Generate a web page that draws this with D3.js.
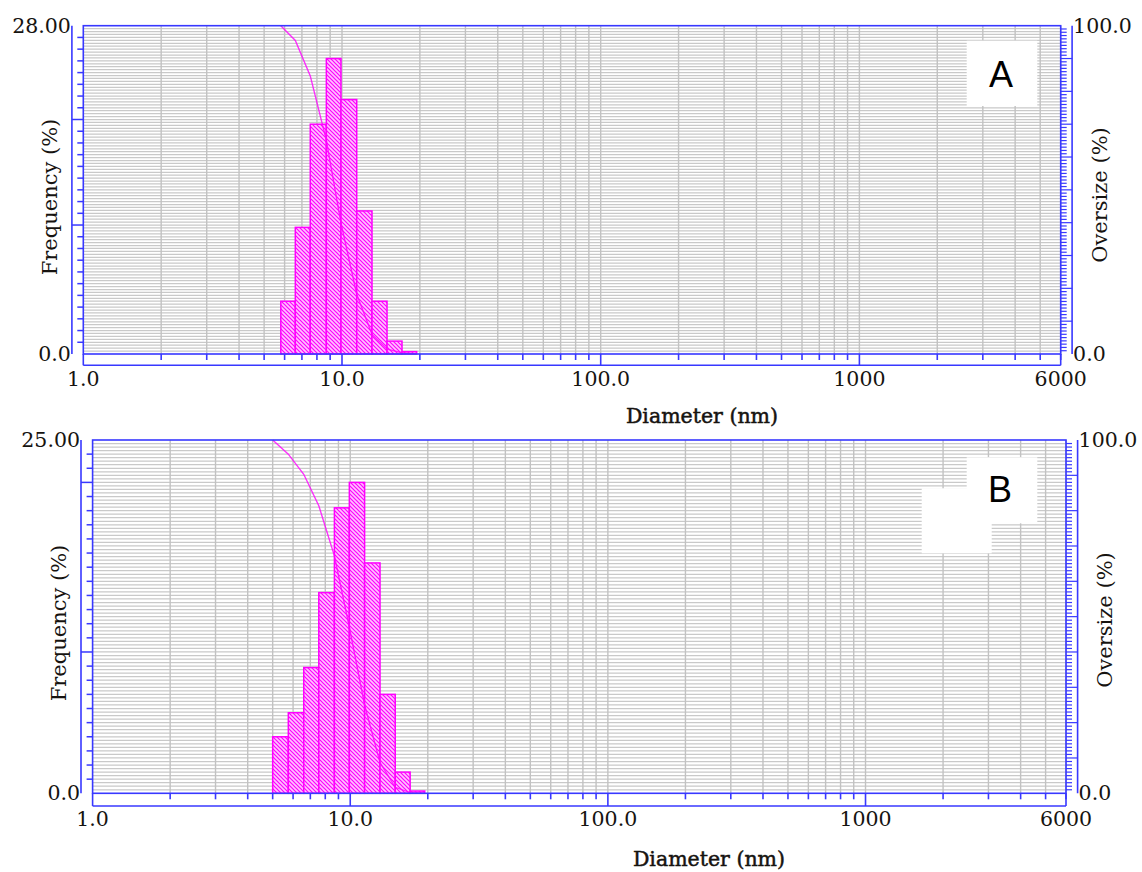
<!DOCTYPE html>
<html>
<head>
<meta charset="utf-8">
<script src="https://cdn.jsdelivr.net/npm/d3@7/dist/d3.min.js"></script>
<style>
  html, body { margin: 0; padding: 0; background: #fff; }
  svg { display: block; }
</style>
</head>
<body>
<script>
// ---- Data ----------------------------------------------------------------
// Diameter axis (nm, log scale)
const diameterTicks = [1, 10, 100, 1000, 6000];
const diameterTickLabels = ["1.0", "10.0", "100.0", "1000", "6000"];

// Sample A: bin edges (nm), frequency per bin (%), cumulative oversize at each edge (%)
const binEdgesA = [5.80, 6.60, 7.54, 8.70, 9.91, 11.40, 13.06, 14.93, 17.06, 19.44];
const frequencyA = [4.5, 10.8, 19.6, 25.2, 21.7, 12.2, 4.5, 1.1, 0.2];
const oversizeA = [100, 95.5, 84.7, 65.1, 39.9, 18.2, 6.0, 1.5, 0.4, 0.0];
const freqMaxA = 28;
const freqLabelsA = ["0.0", "28.00"];
const freqMajorA = [11, 20];

// Sample B
const binEdgesB = [5.00, 5.75, 6.60, 7.55, 8.68, 9.92, 11.37, 13.05, 14.95, 17.08, 19.46];
const frequencyB = [4.0, 5.7, 8.9, 14.2, 20.2, 22.0, 16.3, 7.0, 1.5, 0.16];
const oversizeB = [100, 96.0, 90.3, 81.4, 67.2, 47.0, 25.0, 8.7, 1.7, 0.2, 0.0];
const freqMaxB = 25;
const freqLabelsB = ["0.0", "25.00"];
const freqMajorB = [10, 22];

const oversizeMax = 100;
const oversizeLabels = ["0.0", "100.0"];

// ---- Styling ---------------------------------------------------------------
const BLUE = "#3838ff";
const MAGENTA = "#ff00ff";
const GRID = "#c9c9c9";
const SERIF = "'DejaVu Serif', 'Liberation Serif', serif";
const INK = "#161310";

const svg = d3.select("body").append("svg")
  .attr("width", 1142).attr("height", 872);

// Diagonal hatch used by the histogram bars
const defs = svg.append("defs");
const pat = defs.append("pattern")
  .attr("id", "hatch")
  .attr("patternUnits", "userSpaceOnUse")
  .attr("width", 4).attr("height", 4);
pat.append("rect").attr("width", 4).attr("height", 4).attr("fill", "#ffc4ff");
pat.append("path")
  .attr("d", "M-1,-1 L5,5 M-1,3 L1,5 M3,-1 L5,1")
  .attr("stroke", MAGENTA).attr("stroke-width", 1.2);

function drawPanel(cfg) {
  const { left, right, top, bottom, gapX, gapY } = cfg;
  const g = svg.append("g");

  const x = d3.scaleLog().domain([1, 6000]).range([left, right]);
  const y = d3.scaleLinear().domain([0, cfg.freqMax]).range([bottom, top]);
  const y2 = d3.scaleLinear().domain([0, oversizeMax]).range([bottom, top]);

  // log gridline positions: 1..9 per decade
  const logVals = [];
  [1, 10, 100, 1000].forEach(d => {
    for (let k = 1; k <= 9; k++) { if (d * k <= 6000) logVals.push(d * k); }
  });

  // horizontal grid (quarter units of frequency)
  const hGrid = d3.range(1, cfg.freqMax * 4).map(i => i / 4);
  g.append("g").selectAll("line").data(hGrid).join("line")
    .attr("x1", left).attr("x2", right)
    .attr("y1", d => y(d)).attr("y2", d => y(d))
    .attr("stroke", GRID).attr("stroke-width", 1.25);

  // vertical grid
  g.append("g").selectAll("line").data(logVals.filter(v => v > 1)).join("line")
    .attr("x1", d => x(d)).attr("x2", d => x(d))
    .attr("y1", top).attr("y2", bottom)
    .attr("stroke", "#c2c2c2").attr("stroke-width", 1.4);

  // white panel label box(es)
  cfg.boxes.forEach(b => {
    g.append("rect").attr("x", b[0]).attr("y", b[1]).attr("width", b[2]).attr("height", b[3])
      .attr("fill", "#fff");
  });
  g.append("text")
    .attr("x", cfg.labelPos[0]).attr("y", cfg.labelPos[1])
    .attr("text-anchor", "middle")
    .attr("font-family", "'Liberation Sans', Arial, sans-serif")
    .attr("font-size", 36).attr("fill", "#000")
    .text(cfg.label);

  // histogram bars
  g.append("g").selectAll("rect").data(cfg.freq).join("rect")
    .attr("x", (d, i) => x(cfg.edges[i]))
    .attr("width", (d, i) => x(cfg.edges[i + 1]) - x(cfg.edges[i]))
    .attr("y", d => y(d))
    .attr("height", d => bottom - y(d))
    .attr("fill", "url(#hatch)")
    .attr("stroke", MAGENTA).attr("stroke-width", 1.5);

  // cumulative oversize curve
  const line = d3.line().x((d, i) => x(cfg.edges[i])).y(d => y2(d));
  g.append("path").datum(cfg.oversize)
    .attr("d", line)
    .attr("fill", "none").attr("stroke", MAGENTA)
    .attr("stroke-width", 1.4).attr("stroke-opacity", 0.8);

  // frame
  g.append("rect").attr("x", left).attr("y", top)
    .attr("width", right - left).attr("height", bottom - top)
    .attr("fill", "none").attr("stroke", BLUE).attr("stroke-width", 1.6);

  // offset axis lines
  g.append("line").attr("x1", left - gapX).attr("x2", left - gapX)
    .attr("y1", top).attr("y2", bottom).attr("stroke", BLUE).attr("stroke-width", 1.6);
  g.append("line").attr("x1", right + gapX).attr("x2", right + gapX)
    .attr("y1", top).attr("y2", bottom).attr("stroke", BLUE).attr("stroke-width", 1.6);
  g.append("line").attr("x1", left).attr("x2", right)
    .attr("y1", bottom + gapY).attr("y2", bottom + gapY).attr("stroke", BLUE).attr("stroke-width", 1.6);
  g.append("line").attr("x1", right).attr("x2", right)
    .attr("y1", bottom).attr("y2", bottom + gapY).attr("stroke", BLUE).attr("stroke-width", 1.6);

  // bottom ticks
  g.append("g").selectAll("line").data(logVals).join("line")
    .attr("x1", d => x(d)).attr("x2", d => x(d))
    .attr("y1", bottom)
    .attr("y2", d => (Math.log10(d) % 1 === 0) ? bottom + gapY : bottom + 6)
    .attr("stroke", BLUE).attr("stroke-width", 1.6);

  // left ticks
  const leftTicks = d3.range(1, cfg.freqMax);
  g.append("g").selectAll("line").data(leftTicks).join("line")
    .attr("y1", d => y(d)).attr("y2", d => y(d))
    .attr("x1", left)
    .attr("x2", d => cfg.freqMajor.includes(d) ? left - gapX : left - 6)
    .attr("stroke", BLUE).attr("stroke-width", 1.5);

  // right ticks (every 1 %)
  const rightTicks = d3.range(1, oversizeMax);
  g.append("g").selectAll("line").data(rightTicks).join("line")
    .attr("y1", d => y2(d)).attr("y2", d => y2(d))
    .attr("x1", right)
    .attr("x2", d => d % 10 === 0 ? right + gapX : right + 6)
    .attr("stroke", BLUE).attr("stroke-width", 1.2);

  // tick labels
  function txt(xp, yp, s, anchor) {
    return g.append("text").attr("x", xp).attr("y", yp).attr("text-anchor", anchor)
      .attr("font-family", SERIF).attr("font-size", 20.5).attr("fill", INK)
      .text(s);
  }
  txt(left - gapX - 1, y(0) + 7, cfg.freqLabels[0], "end");
  txt(left - gapX - 1, y(cfg.freqMax) + 7, cfg.freqLabels[1], "end");
  txt(right + gapX + 1, y2(0) + 7, oversizeLabels[0], "start");
  txt(right + gapX + 1, y2(oversizeMax) + 7, oversizeLabels[1], "start");
  diameterTicks.forEach((v, i) => {
    txt(x(v), bottom + cfg.xLabelDy, diameterTickLabels[i], "middle");
  });

  // axis titles
  g.append("text")
    .attr("transform", `translate(${cfg.freqTitle[0]},${cfg.freqTitle[1]}) rotate(-90)`)
    .attr("text-anchor", "middle")
    .attr("font-family", SERIF).attr("font-size", 21).attr("fill", INK)
    .text("Frequency (%)");
  g.append("text")
    .attr("transform", `translate(${cfg.overTitle[0]},${cfg.overTitle[1]}) rotate(-90)`)
    .attr("text-anchor", "middle")
    .attr("font-family", SERIF).attr("font-size", 21).attr("fill", INK)
    .text("Oversize (%)");
  g.append("text")
    .attr("x", cfg.diamTitle[0]).attr("y", cfg.diamTitle[1])
    .attr("text-anchor", "middle")
    .attr("font-family", SERIF).attr("font-size", 20.5).attr("fill", INK)
    .attr("stroke", INK).attr("stroke-width", 0.5)
    .text("Diameter (nm)");
}

drawPanel({
  left: 83.3, right: 1060.7, top: 25.7, bottom: 354, gapX: 11.4, gapY: 11.3,
  freqMax: freqMaxA, freqLabels: freqLabelsA, freqMajor: freqMajorA,
  edges: binEdgesA, freq: frequencyA, oversize: oversizeA,
  label: "A", labelPos: [1001, 87],
  boxes: [[966.7, 40.7, 70.6, 65.3]],
  xLabelDy: 32,
  freqTitle: [57, 197], overTitle: [1107, 195], diamTitle: [702, 423]
});

drawPanel({
  left: 92.6, right: 1066, top: 440, bottom: 793.3, gapX: 11.6, gapY: 12.7,
  freqMax: freqMaxB, freqLabels: freqLabelsB, freqMajor: freqMajorB,
  edges: binEdgesB, freq: frequencyB, oversize: oversizeB,
  label: "B", labelPos: [1000, 502],
  boxes: [[966.7, 457.3, 70.6, 66], [921.7, 488.3, 70, 65]],
  xLabelDy: 33,
  freqTitle: [66, 623], overTitle: [1112, 620], diamTitle: [709, 866]
});
</script>
</body>
</html>
